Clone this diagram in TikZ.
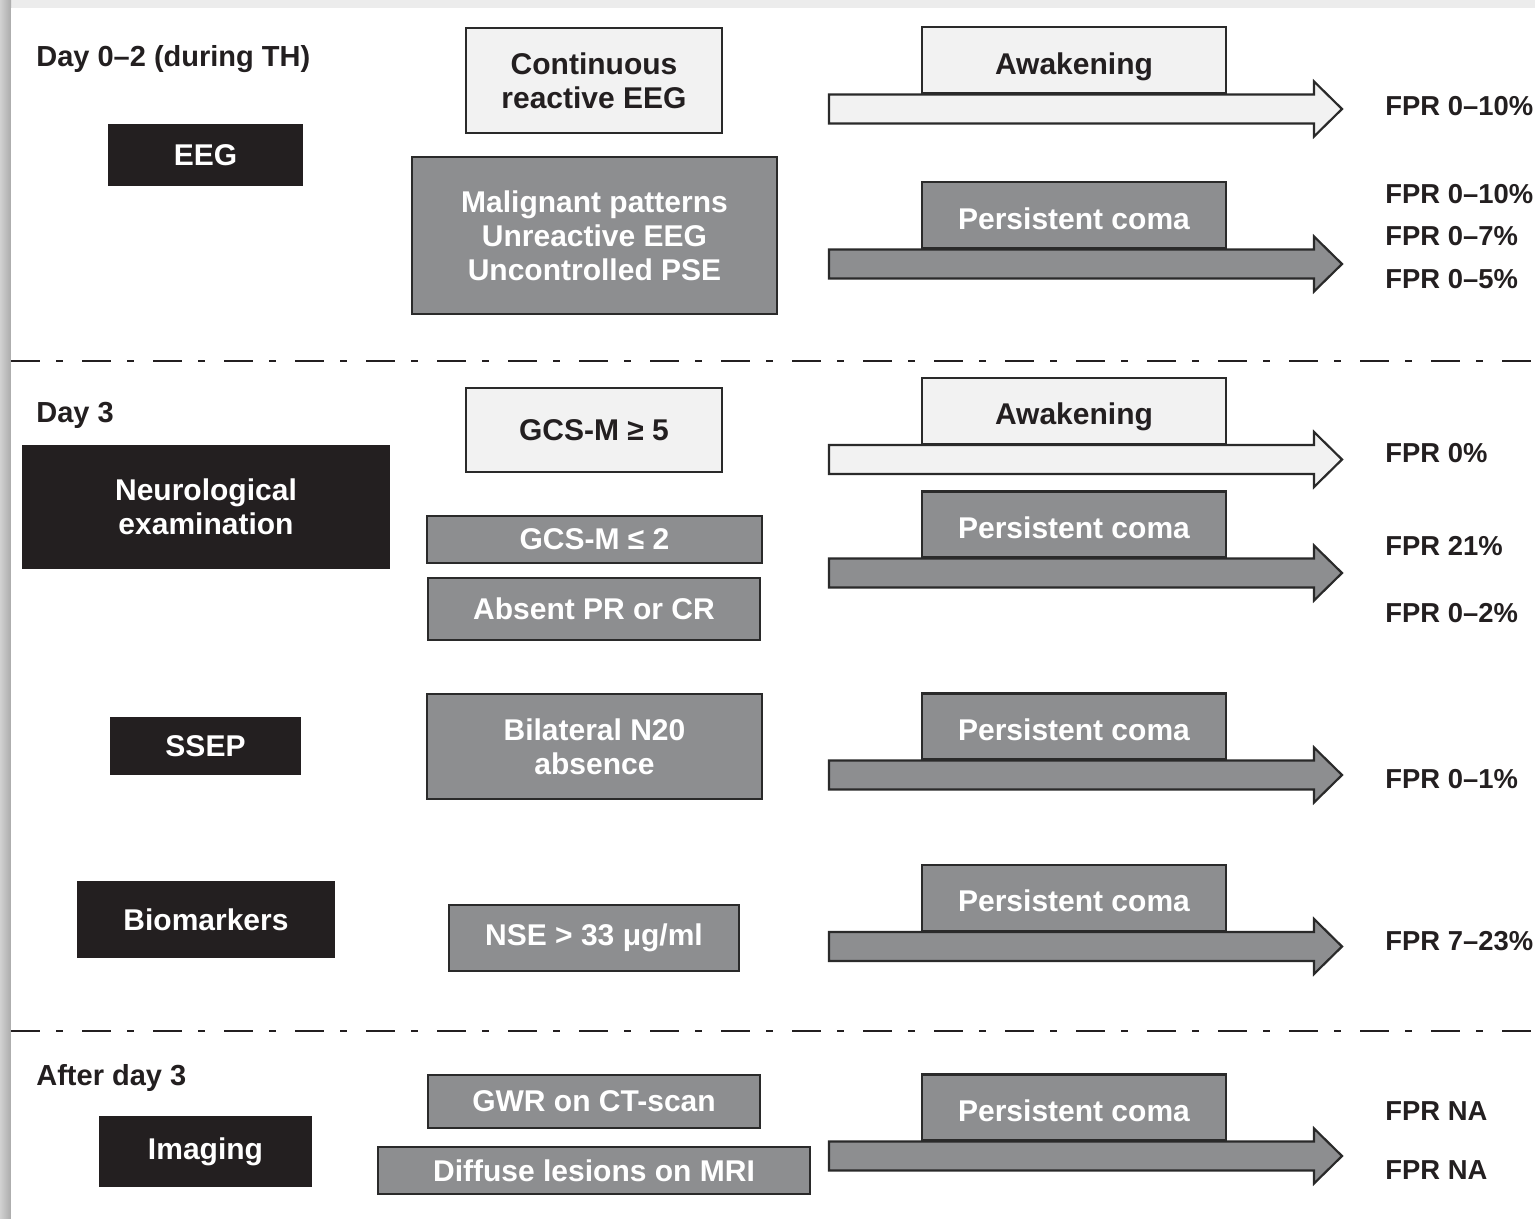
\documentclass[tikz,border=0pt]{standalone}
\usepackage{fontspec}
\setmainfont{Liberation Sans}
\definecolor{ink}{HTML}{231F20}
\definecolor{boxgray}{HTML}{8D8E90}
\definecolor{boxlight}{HTML}{F2F2F2}
\definecolor{edge}{HTML}{2A2A2A}
\definecolor{rim}{HTML}{ECECEC}
\tikzset{
  boxfont/.style={font=\fontsize{15}{17}\selectfont\bfseries},
  base/.style={boxfont, inner sep=0pt, align=center},
  blackbox/.style={base, fill=ink, text=white},
  graybox/.style={base, draw=edge, line width=1.1pt, fill=boxgray, text=white},
  lightbox/.style={base, draw=edge, line width=1.1pt, fill=boxlight, text=ink},
  tab/.style={minimum width=152pt, minimum height=33pt, anchor=south, text height=13.7pt, text depth=0pt},
  daylabel/.style={font=\fontsize{14.5}{17}\selectfont\bfseries, text=ink, anchor=west, inner sep=0pt},
  fpr/.style={font=\fontsize{13.7}{16}\selectfont\bfseries, text=ink, anchor=west, inner sep=0pt},
  arrowline/.style={draw=edge, line width=1.1pt, line join=miter},
  sepline/.style={draw=ink, line width=1pt, dash pattern=on 14.5pt off 8pt on 3.5pt off 9.5pt},
}
% outlined block arrow: name, fill colour, shaft top y
\newcommand{\fatarrow}[3]{%
  \coordinate (#1) at (829,#3);
  \draw[arrowline, fill=#2] (#1) -- ++(485,0) -- ++(0,-13) -- ++(28,27.5)
    -- ++(-28,27.5) -- ++(0,-13) -- ++(-485,0) -- cycle;
}
\begin{document}
\begin{tikzpicture}[x=0.5pt,y=-0.5pt]
\useasboundingbox (0,0) rectangle (1535,1219);
% page frame
\fill[rim] (0,0) rectangle (1535,8);
\shade[left color=black!18, right color=black!33] (0,0) rectangle (11,1219);
\fill[white] (11,8) rectangle (1535,1219);

% section separators
\coordinate (s1a) at (11,361);  \coordinate (s1b) at (1535,361);
\coordinate (s2a) at (11,1031); \coordinate (s2b) at (1535,1031);
\draw[sepline] (s1a) -- (s1b);
\draw[sepline] (s2a) -- (s2b);

% time points
\node[daylabel] (d02) at (36,59) {Day 0–2 (during TH)};
\node[daylabel] (d3)  at (36,415) {Day 3};
\node[daylabel] (d3p) at (36,1078) {After day 3};

% tests
\node[blackbox, minimum width=97.5pt, minimum height=31pt]  (eeg)     at (205.5,155)   {EEG};
\node[blackbox, minimum width=184pt,  minimum height=62pt]  (neuro)   at (206,507)     {Neurological\\examination};
\node[blackbox, minimum width=95.5pt, minimum height=29pt]  (ssep)    at (205.5,746)   {SSEP};
\node[blackbox, minimum width=129pt,  minimum height=38.5pt](bio)     at (206,919.5)   {Biomarkers};
\node[blackbox, minimum width=106.5pt,minimum height=35.5pt](imaging) at (205.5,1151.5){Imaging};

% findings
\node[lightbox, minimum width=128pt,   minimum height=52.5pt] (cont)   at (594,80.5)    {Continuous\\reactive EEG};
\node[graybox,  minimum width=182.5pt, minimum height=78.5pt] (malig)  at (594.5,235.5) {Malignant patterns\\Unreactive EEG\\Uncontrolled PSE};
\node[lightbox, minimum width=128pt,   minimum height=42pt]   (gcsfive)at (594,430)     {GCS-M ≥ 5};
\node[graybox,  minimum width=167.5pt, minimum height=23.5pt] (gcstwo) at (594.5,539.5) {GCS-M ≤ 2};
\node[graybox,  minimum width=166pt,   minimum height=31pt]   (absent) at (594,609)     {Absent PR or CR};
\node[graybox,  minimum width=167.5pt, minimum height=52.5pt] (ntwenty)at (594.5,746.5) {Bilateral N20\\absence};
\node[graybox,  minimum width=145pt,   minimum height=33pt]   (nse)    at (594,938)     {NSE > 33 μg/ml};
\node[graybox,  minimum width=166pt,   minimum height=26.5pt] (gwr)    at (594,1101.5)  {GWR on CT-scan};
\node[graybox,  minimum width=216pt,   minimum height=23.5pt] (mri)    at (594,1170.5)  {Diffuse lesions on MRI};

% outcome arrows with their tabs
\fatarrow{a1}{boxlight}{94.5}
\node[lightbox, tab] (t1) at (1074,94.5) {Awakening};
\fatarrow{a2}{boxgray}{249.5}
\node[graybox, tab] (t2) at (1074,249.5) {Persistent coma};
\fatarrow{a3}{boxlight}{445}
\node[lightbox, tab] (t3) at (1074,445) {Awakening};
\fatarrow{a4}{boxgray}{558.5}
\node[graybox, tab] (t4) at (1074,558.5) {Persistent coma};
\fatarrow{a5}{boxgray}{760.5}
\node[graybox, tab] (t5) at (1074,760.5) {Persistent coma};
\fatarrow{a6}{boxgray}{932}
\node[graybox, tab] (t6) at (1074,932) {Persistent coma};
\fatarrow{a7}{boxgray}{1141.5}
\node[graybox, tab] (t7) at (1074,1141.5) {Persistent coma};

% false positive rates
\node[fpr] (f1)  at (1385,106)  {FPR 0–10\%};
\node[fpr] (f2)  at (1385,194)  {FPR 0–10\%};
\node[fpr] (f3)  at (1385,236)  {FPR 0–7\%};
\node[fpr] (f4)  at (1385,279)  {FPR 0–5\%};
\node[fpr] (f5)  at (1385,453)  {FPR 0\%};
\node[fpr] (f6)  at (1385,546)  {FPR 21\%};
\node[fpr] (f7)  at (1385,613)  {FPR 0–2\%};
\node[fpr] (f8)  at (1385,779)  {FPR 0–1\%};
\node[fpr] (f9)  at (1385,941)  {FPR 7–23\%};
\node[fpr] (f10) at (1385,1111) {FPR NA};
\node[fpr] (f11) at (1385,1170) {FPR NA};
\end{tikzpicture}
\end{document}
